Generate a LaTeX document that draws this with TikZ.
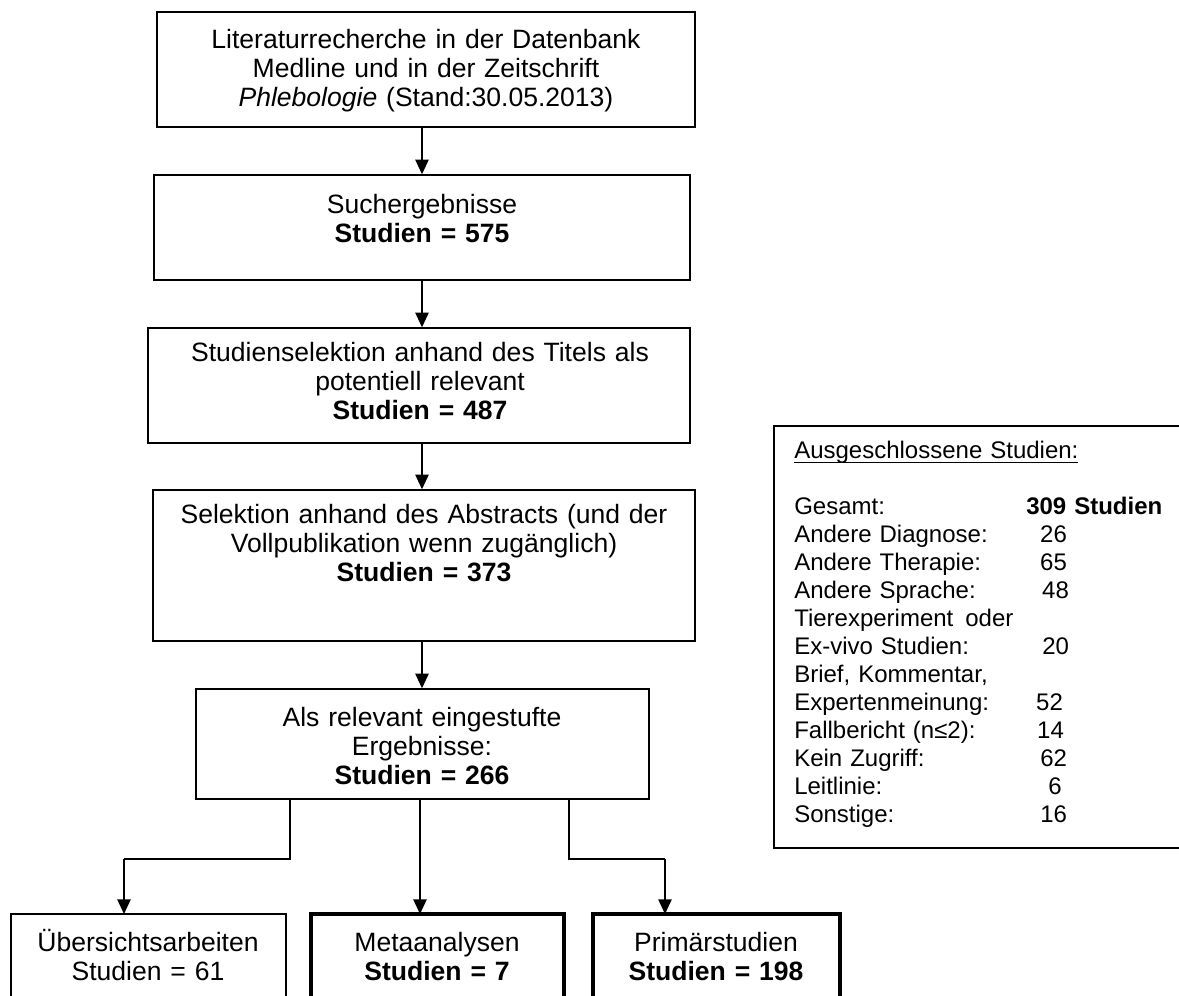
\documentclass[tikz,border=0pt]{standalone}
\usepackage{fontspec}
\setmainfont{Liberation Sans}
\usetikzlibrary{arrows.meta}
\newcommand\pbox[6]{\node[#6, minimum width={(#4-#2)*0.75pt}, minimum height={(#5-#3)*0.75pt}] (#1) at ({(#2+#4)/2},{(#3+#5)/2}) {};}
\newcommand\rl[3]{\makebox[#2][l]{#1}#3}
\newcommand\myul[1]{\setbox0\hbox{#1}\rlap{\rule[-3.6pt]{\wd0}{0.9pt}}\box0}
\begin{document}
\begin{tikzpicture}[x=0.75pt,y=-0.75pt,
  box/.style={draw, line width=1.05pt, inner sep=0pt},
  thickbox/.style={draw, line width=2.6pt, inner sep=0pt},
  txt/.style={anchor=base, align=center, inner sep=0pt, text width=400pt, font=\fontsize{19.9}{21.75}\selectfont},
  stxt/.style={txt, text width=200pt},
  arr/.style={line width=1.05pt, -{Triangle[length=11pt,width=10pt]}}]
\useasboundingbox (0,0) rectangle (1179,996);
% boxes
\pbox{b1}{157}{12}{695}{127}{box}
\pbox{b2}{154}{175}{690}{280}{box}
\pbox{b3}{148}{328}{690}{443}{box}
\pbox{b4}{153}{490}{695}{641}{box}
\pbox{b5}{196}{689}{649}{799}{box}
\pbox{b6}{11}{914}{286}{1010}{box}
\pbox{b7}{311}{914}{564}{1010}{thickbox}
\pbox{b8}{593}{914}{840}{1010}{thickbox}
\pbox{rb}{774}{426}{1200}{848}{box}
% texts
\node[txt] (t1) at (426,48) {Literaturrecherche in der Datenbank\\Medline und in der Zeitschrift\\\textit{Phlebologie} (Stand:30.05.2013)};
\node[txt] (t2) at (422,213) {Suchergebnisse\\\textbf{Studien = 575}};
\node[txt] (t3) at (420,361) {Studienselektion anhand des Titels als\\potentiell relevant\\\textbf{Studien = 487}};
\node[txt] (t4) at (424,523) {Selektion anhand des Abstracts (und der\\Vollpublikation wenn zugänglich)\\\textbf{Studien = 373}};
\node[txt] (t5) at (422,726) {Als relevant eingestufte\\Ergebnisse:\\\textbf{Studien = 266}};
\node[stxt] (t6) at (148,951) {Übersichtsarbeiten\\Studien = 61};
\node[stxt] (t7) at (437,951) {Metaanalysen\\\textbf{Studien = 7}};
\node[stxt] (t8) at (716,951) {Primärstudien\\\textbf{Studien = 198}};
\node[anchor=base west, align=left, inner sep=0pt, text width=290pt, font=\fontsize{18}{21}\selectfont] (rt) at (794,458) {%
\myul{Ausgeschlossene Studien:}\\[21pt]
\rl{Gesamt:}{174pt}{\textbf{309 Studien}}\\
\rl{Andere Diagnose:}{184.5pt}{26}\\
\rl{Andere Therapie:}{184.5pt}{65}\\
\rl{Andere Sprache:}{186pt}{48}\\
Tierexperiment\enspace oder\\
\rl{Ex-vivo Studien:}{186pt}{20}\\
Brief, Kommentar,\\
\rl{Expertenmeinung:}{181.5pt}{52}\\
\rl{Fallbericht (n≤2):}{182.25pt}{14}\\
\rl{Kein Zugriff:}{184.5pt}{62}\\
\rl{Leitlinie:}{190.5pt}{6}\\
\rl{Sonstige:}{184.5pt}{16}};
% connectors
\coordinate (bl) at (290,859);
\coordinate (br) at (569,859);
\coordinate (a6) at (124,914);
\coordinate (a7) at (420,914);
\coordinate (a8) at (665,914);
\draw[arr] (b1.south -| b2.south) -- (b2.north);
\draw[arr] (b2.south) -- (b2.south |- b3.north);
\draw[arr] (b3.south -| b2.south) -- (b2.south |- b4.north);
\draw[arr] (b4.south -| b2.south) -- (b2.south |- b5.north);
\draw[line width=1.05pt] (b5.south -| bl) -- (bl) -- (bl -| a6);
\draw[arr] (bl -| a6) -- (a6);
\draw[arr] (b5.south -| a7) -- (a7);
\draw[line width=1.05pt] (b5.south -| br) -- (br) -- (br -| a8);
\draw[arr] (br -| a8) -- (a8);
\end{tikzpicture}
\end{document}
